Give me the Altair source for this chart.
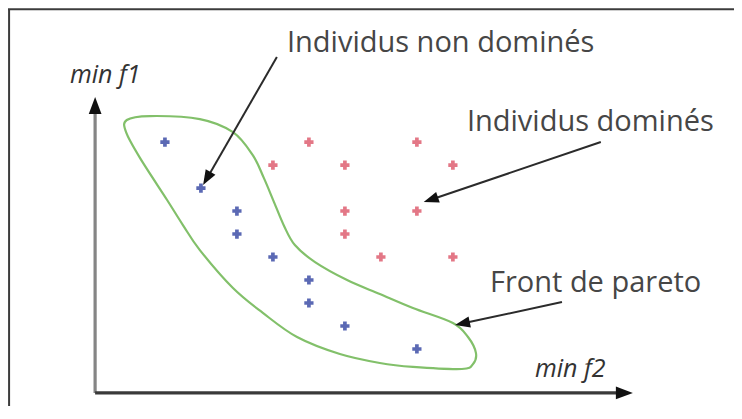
import math
import altair as alt
import pandas as pd

# ---------------- data (objective space: f2 horizontal, f1 vertical) ----------------
blue_f2 = [1, 2, 3, 3, 4, 5, 5, 6, 8]
blue_f1 = [10, 8, 7, 6, 5, 4, 3, 2, 1]
red_f2 = [5, 4, 6, 8, 9, 6, 8, 6, 7, 9]
red_f1 = [10, 9, 9, 10, 9, 7, 7, 6, 5, 5]

# outline of the Pareto front (closed curve)
front_f2 = [-0.06, 0.58, 1.97, 2.89, 3.44, 3.75, 4.03, 4.31, 4.61, 5.17, 6.06, 6.97, 7.89, 9.00,
            9.42, 9.64, 9.56, 9.25, 7.89, 6.97, 5.86, 4.67, 3.72, 2.89, 1.97, 1.50, 1.06, 0.31, -0.08]
front_f1 = [10.96, 11.13, 11.00, 10.43, 9.43, 8.43, 7.39, 6.35, 5.52, 4.78, 4.00, 3.39, 2.78, 2.13,
            1.52, 0.83, 0.35, 0.13, 0.22, 0.39, 0.78, 1.52, 2.57, 3.65, 5.30, 6.39, 7.48, 9.30, 10.43]

# axes
origin_f2, origin_f1 = -0.94, -0.91
f1_axis_end = 11.96
f2_axis_end = 14.0

# annotation arrows
arrow_from_f2 = [4.11, 13.11, 12.03]
arrow_from_f1 = [13.70, 10.00, 3.04]
arrow_to_f2 = [2.06, 8.19, 9.06]
arrow_to_f1 = [8.13, 7.39, 2.04]

labels = ["Individus non dominés", "Individus dominés", "Front de pareto"]
label_f2 = [4.39, 9.39, 10.03]
label_f1 = [13.91, 10.48, 3.48]

axis_titles = ["min f1", "min f2"]
axis_title_f2 = [-1.64, 11.28]
axis_title_f1 = [12.57, -0.22]

# frame (top and left edges of the picture)
frame_top_f1 = 15.78
frame_left_f2 = -3.33

# ---------------- layout ----------------
X_DOM = [-3.36, 16.81]
Y_DOM = [-1.48, 15.83]
W, H = 726, 398
KX = W / (X_DOM[1] - X_DOM[0])
KY = H / (Y_DOM[1] - Y_DOM[0])

xs = alt.Scale(domain=X_DOM, nice=False, zero=False)
ys = alt.Scale(domain=Y_DOM, nice=False, zero=False)
X = lambda f="f2": alt.X(f"{f}:Q", scale=xs, axis=None)
Y = lambda f="f1": alt.Y(f"{f}:Q", scale=ys, axis=None)

HEAD = "M0,-1L0.75,1L-0.75,1Z"


def head(sx, sy, tx, ty, s):
    dx = (tx - sx) * KX
    dy = -(ty - sy) * KY
    L = math.hypot(dx, dy)
    ux, uy = dx / L, dy / L
    cx = tx - (s / 2) * ux / KX
    cy = ty + (s / 2) * uy / KY
    ex = tx - 0.8 * s * ux / KX
    ey = ty + 0.8 * s * uy / KY
    ang = math.degrees(math.atan2(ux, -uy)) % 360
    return cx, cy, ex, ey, ang


seg_rows, head_rows = [], []
# axes
for (tx, ty, col, w) in [(origin_f2, f1_axis_end, "#858585", 3.2), (f2_axis_end, origin_f1, "#3a3a3a", 3.2)]:
    cx, cy, ex, ey, ang = head(origin_f2, origin_f1, tx, ty, 17)
    seg_rows.append(dict(f2=origin_f2, f1=origin_f1, f2b=ex, f1b=ey, c=col, w=w))
    head_rows.append(dict(f2=cx, f1=cy, a=ang, s=17 * 17, c="#111111"))
# annotation arrows
for sx, sy, tx, ty in zip(arrow_from_f2, arrow_from_f1, arrow_to_f2, arrow_to_f1):
    cx, cy, ex, ey, ang = head(sx, sy, tx, ty, 15)
    seg_rows.append(dict(f2=sx, f1=sy, f2b=ex, f1b=ey, c="#2b2b2b", w=2))
    head_rows.append(dict(f2=cx, f1=cy, a=ang, s=15 * 15, c="#111111"))

segs = pd.DataFrame(seg_rows)
heads = pd.DataFrame(head_rows)

frame = pd.DataFrame([
    dict(f2=X_DOM[0], f1=frame_top_f1, f2b=X_DOM[1], f1b=frame_top_f1),
    dict(f2=frame_left_f2, f1=frame_top_f1, f2b=frame_left_f2, f1b=Y_DOM[0]),
])

pts = pd.DataFrame(
    [dict(f2=a, f1=b, kind="non dominé") for a, b in zip(blue_f2, blue_f1)]
    + [dict(f2=a, f1=b, kind="dominé") for a, b in zip(red_f2, red_f1)]
)
front = pd.DataFrame(dict(f2=front_f2, f1=front_f1, k=list(range(len(front_f2)))))
lab = pd.DataFrame(dict(f2=label_f2, f1=label_f1, t=labels))
atl = pd.DataFrame(dict(f2=axis_title_f2, f1=axis_title_f1, t=axis_titles))

frame_layer = alt.Chart(frame).mark_rule(color="#3c3c3c", strokeWidth=2).encode(
    x=X(), y=Y(), x2="f2b:Q", y2="f1b:Q")

front_layer = alt.Chart(front).mark_line(
    interpolate="cardinal-closed", color="#82c06a", strokeWidth=2.2
).encode(x=X(), y=Y(), order="k:Q")

seg_layer = alt.Chart(segs).mark_rule().encode(
    x=X(), y=Y(), x2="f2b:Q", y2="f1b:Q",
    color=alt.Color("c:N", scale=None),
    strokeWidth=alt.StrokeWidth("w:Q", scale=None),
)

head_layer = alt.Chart(heads).mark_point(shape=HEAD, filled=True, opacity=1, strokeWidth=0).encode(
    x=X(), y=Y(),
    angle=alt.Angle("a:Q", scale=None),
    size=alt.Size("s:Q", scale=None),
    color=alt.Color("c:N", scale=None),
)

pt_layer = alt.Chart(pts).mark_point(shape="cross", filled=True, opacity=0.95, size=85).encode(
    x=X(), y=Y(),
    color=alt.Color("kind:N", scale=alt.Scale(domain=["non dominé", "dominé"],
                                              range=["#5261b0", "#e2707f"]), legend=None),
)

lab_layer = alt.Chart(lab).mark_text(
    align="left", baseline="alphabetic", font="Open Sans", fontSize=29, color="#464646"
).encode(x=X(), y=Y(), text="t:N")

atl_layer = alt.Chart(atl).mark_text(
    align="left", baseline="alphabetic", font="Open Sans", fontSize=25, fontStyle="italic",
    color="#333333"
).encode(x=X(), y=Y(), text="t:N")

chart = alt.layer(
    frame_layer, front_layer, seg_layer, head_layer, pt_layer, lab_layer, atl_layer
).properties(
    width=W, height=H, padding=0, autosize=alt.AutoSizeParams(type="none"),
    background="white",
).configure_view(stroke=None)

chart.save("out.html", embed_options={"renderer": "svg", "actions": False})
